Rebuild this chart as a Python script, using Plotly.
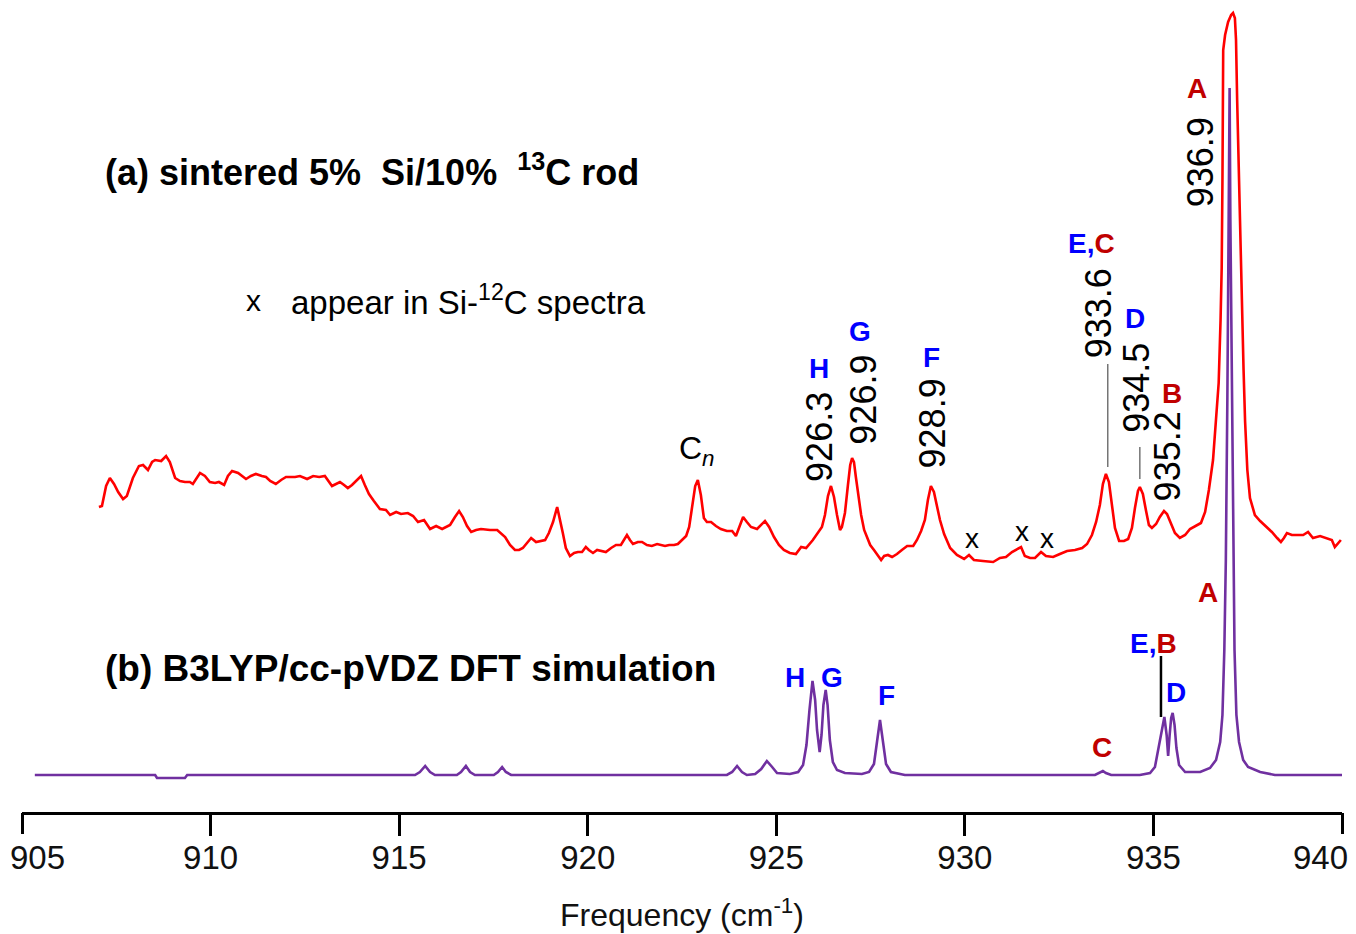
import plotly.graph_objects as go

# ---------------- data ----------------
# (a) experimental spectrum, sintered 5% Si / 10% 13C rod (arbitrary intensity units incl. offset)
exp_freq = [907.04, 907.12, 907.23, 907.33, 907.44, 907.55, 907.68, 907.78, 907.94, 908.10,
            908.21, 908.34, 908.45, 908.53, 908.69, 908.82, 908.92, 909.06, 909.19, 909.32,
            909.45, 909.53, 909.72, 909.85, 909.98, 910.12, 910.22, 910.36, 910.46, 910.57,
            910.73, 910.94, 911.07, 911.20, 911.36, 911.47, 911.58, 911.73, 911.87, 912.00,
            912.24, 912.37, 912.56, 912.72, 912.88, 913.03, 913.22, 913.33, 913.43, 913.54,
            913.64, 913.75, 913.88, 913.99, 914.09, 914.20, 914.33, 914.49, 914.65, 914.76,
            914.92, 915.05, 915.23, 915.37, 915.50, 915.66, 915.82, 915.98, 916.14, 916.35,
            916.48, 916.59, 916.69, 916.80, 916.91, 917.04, 917.17, 917.41, 917.60, 917.70,
            917.81, 917.94, 918.07, 918.18, 918.28, 918.39, 918.50, 918.63, 918.73, 918.87,
            918.97, 919.08, 919.19, 919.26, 919.34, 919.42, 919.53, 919.64, 919.74, 919.85,
            919.95, 920.03, 920.14, 920.25, 920.35, 920.48, 920.62, 920.75, 920.88, 920.96,
            921.04, 921.12, 921.20, 921.33, 921.44, 921.57, 921.70, 921.84, 921.94, 922.05,
            922.16, 922.29, 922.39, 922.50, 922.61, 922.69, 922.77, 922.85, 922.92, 923.00,
            923.08, 923.16, 923.27, 923.40, 923.53, 923.69, 923.83, 923.93, 924.01, 924.12,
            924.22, 924.33, 924.49, 924.60, 924.70, 924.81, 924.94, 925.07, 925.20, 925.36,
            925.52, 925.66, 925.79, 925.97, 926.11, 926.21, 926.29, 926.37, 926.45, 926.53,
            926.61, 926.69, 926.74, 926.82, 926.90, 926.96, 927.01, 927.06, 927.11, 927.17,
            927.25, 927.33, 927.41, 927.49, 927.59, 927.70, 927.78, 927.86, 927.96, 928.07,
            928.20, 928.33, 928.47, 928.63, 928.73, 928.84, 928.94, 929.02, 929.10, 929.18,
            929.26, 929.34, 929.45, 929.61, 929.79, 929.98, 930.11, 930.24, 930.48, 930.75,
            930.93, 931.09, 931.25, 931.41, 931.49, 931.59, 931.73, 931.86, 932.02, 932.15,
            932.34, 932.52, 932.71, 932.92, 933.11, 933.24, 933.37, 933.48, 933.58, 933.66,
            933.74, 933.82, 933.90, 933.98, 934.09, 934.22, 934.33, 934.43, 934.51, 934.59,
            934.64, 934.72, 934.80, 934.88, 934.96, 935.07, 935.17, 935.28, 935.36, 935.47,
            935.57, 935.70, 935.84, 935.97, 936.13, 936.26, 936.37, 936.47, 936.58, 936.66,
            936.73, 936.78, 936.81, 936.83, 936.84, 936.85, 936.90, 936.98, 937.06, 937.11,
            937.16, 937.19, 937.22, 937.25, 937.30, 937.34, 937.39, 937.43, 937.49, 937.56,
            937.69, 937.83, 937.98, 938.14, 938.28, 938.38, 938.46, 938.54, 938.67, 938.83,
            938.97, 939.10, 939.23, 939.42, 939.60, 939.73, 939.81, 939.89, 939.97]
exp_int = [305, 306, 326, 334, 328, 320, 313, 316, 334, 346,
           347, 342, 350, 352, 351, 356, 350, 334, 331, 330,
           330, 328, 339, 336, 330, 329, 330, 327, 336, 341,
           339, 333, 336, 338, 336, 335, 331, 328, 332, 335,
           335, 336, 333, 336, 335, 336, 326, 328, 330, 327,
           324, 327, 332, 336, 327, 318, 311, 303, 302, 297,
           300, 298, 299, 296, 290, 292, 283, 286, 283, 287,
           295, 301, 295, 286, 280, 282, 283, 282, 282, 279,
           275, 267, 262, 262, 264, 269, 274, 270, 271, 272,
           279, 290, 305, 294, 279, 264, 256, 259, 260, 260,
           265, 262, 259, 262, 261, 260, 264, 267, 267, 272,
           277, 272, 268, 270, 270, 267, 266, 268, 267, 266,
           267, 267, 268, 272, 276, 285, 307, 326, 332, 317,
           294, 290, 290, 286, 283, 281, 281, 276, 284, 295,
           290, 285, 283, 287, 291, 285, 275, 267, 262, 259,
           258, 265, 264, 272, 280, 285, 297, 316, 326, 315,
           297, 282, 285, 299, 327, 347, 354, 350, 335, 317,
           297, 282, 274, 267, 262, 256, 252, 256, 257, 255,
           258, 262, 266, 266, 272, 281, 292, 312, 326, 320,
           305, 292, 278, 264, 257, 253, 257, 252, 251, 250,
           254, 255, 260, 263, 265, 256, 254, 254, 260, 256,
           255, 258, 261, 262, 264, 268, 277, 290, 307, 328,
           338, 330, 307, 284, 271, 271, 273, 284, 304, 321,
           325, 318, 302, 287, 284, 288, 295, 301, 298, 287,
           279, 274, 277, 283, 286, 289, 300, 322, 352, 392,
           429, 492, 544, 632, 712, 762, 777, 790, 797, 799,
           794, 772, 712, 659, 582, 506, 442, 391, 342, 314,
           297, 291, 286, 280, 274, 270, 274, 279, 277, 277,
           277, 280, 274, 276, 274, 272, 265, 269, 272]

# (b) B3LYP/cc-pVDZ DFT simulated spectrum
sim_freq = [905.34, 908.53, 908.58, 909.32, 909.38, 915.42, 915.55, 915.69, 915.82, 915.95,
            916.53, 916.64, 916.77, 916.88, 917.01, 917.51, 917.62, 917.73, 917.83, 917.97,
            923.69, 923.83, 923.96, 924.09, 924.22, 924.44, 924.60, 924.75, 924.89, 925.02,
            925.36, 925.58, 925.71, 925.80, 925.88, 925.96, 926.03, 926.08, 926.15, 926.20,
            926.25, 926.31, 926.36, 926.42, 926.50, 926.61, 926.82, 927.27, 927.46, 927.59,
            927.67, 927.75, 927.83, 927.91, 928.04, 928.41, 933.45, 933.58, 933.66, 933.74,
            933.88, 934.64, 934.91, 935.04, 935.15, 935.23, 935.29, 935.35, 935.39, 935.43,
            935.47, 935.51, 935.56, 935.61, 935.68, 935.84, 936.24, 936.50, 936.66, 936.77,
            936.83, 936.88, 936.92, 936.96, 936.99, 937.02, 937.04, 937.08, 937.11, 937.15,
            937.20, 937.27, 937.38, 937.51, 937.83, 938.22, 940.00]
sim_int = [37, 37, 34, 34, 37, 37, 40, 46, 40, 37,
           37, 40, 46, 40, 37, 37, 40, 45, 40, 37,
           37, 40, 46, 40, 37, 38, 43, 51, 45, 39,
           38, 40, 47, 67, 102, 131, 112, 82, 60, 77,
           107, 122, 107, 72, 50, 42, 39, 38, 40, 48,
           70, 92, 70, 48, 40, 37, 37, 39, 41, 39,
           37, 37, 39, 45, 67, 87, 95, 77, 56, 77,
           94, 99, 87, 64, 47, 40, 40, 44, 52, 70,
           97, 162, 252, 412, 592, 724, 592, 412, 252, 162,
           97, 70, 52, 45, 40, 37, 37]

tick_vals = [905, 910, 915, 920, 925, 930, 935, 940]
tick_text = ["905", "910", "915", "920", "925", "930", "935", "940"]

# peak frequency labels (experimental): text, x, y
freq_labels = ["926.3", "926.9", "928.9", "933.6", "934.5", "935.2", "936.9"]
freq_lab_x = [926.13, 927.29, 929.14, 933.54, 934.53, 935.37, 936.24]
freq_lab_y = [375, 412, 389, 499, 424, 356, 650]

BLUE = "#0000FF"
DRED = "#C00000"
# letter labels (experimental, top)
top_letters = ["H", "G", "F", f"<span style='color:{BLUE}'>E,</span><span style='color:{DRED}'>C</span>", "D", "B", "A"]
top_letter_x = [926.12, 927.23, 929.11, 933.36, 934.51, 935.48, 936.16]
top_letter_y = [444, 481, 455, 569, 494, 419, 724]
top_letter_c = [BLUE, BLUE, BLUE, BLUE, BLUE, DRED, DRED]
# letter labels (simulation, bottom)
bot_letters = ["H", "G", "F", "C", f"<span style='color:{BLUE}'>E,</span><span style='color:{DRED}'>B</span>", "D", "A"]
bot_letter_x = [925.50, 926.48, 927.91, 933.63, 935.00, 935.60, 936.45]
bot_letter_y = [135, 135, 117, 65, 169, 120, 220]
bot_letter_c = [BLUE, BLUE, BLUE, DRED, BLUE, BLUE, DRED]

# "x" marks: bands that also appear in Si-12C spectra
xmark_x = [930.19, 931.52, 932.18]
xmark_y = [274, 281, 274]

# ---------------- figure ----------------
FONT = "Liberation Sans, Arial, sans-serif"
TICK_FS = 33
TICKLEN = 21
fig = go.Figure()
fig.add_trace(go.Scatter(x=exp_freq, y=exp_int, mode="lines",
                         line=dict(color="#FF0000", width=2.6), hoverinfo="skip"))
fig.add_trace(go.Scatter(x=sim_freq, y=sim_int, mode="lines",
                         line=dict(color="#7030A0", width=2.6), hoverinfo="skip"))
# invisible helper trace so the end-tick axis is drawn
fig.add_trace(go.Scatter(x=[tick_vals[0], tick_vals[-1]], y=[None, None], mode="lines",
                         xaxis="x2", yaxis="y", hoverinfo="skip", showlegend=False))

ann = []
ann.append(dict(x=907.15, y=642, xanchor="left", yanchor="middle",
                text="<b>(a) sintered 5%\u00a0 Si/10%\u00a0 <sup>13</sup>C rod</b>",
                font=dict(size=36, color="black")))
ann.append(dict(x=911.15, y=512, xanchor="center", yanchor="middle", text="x",
                font=dict(size=30, color="black")))
ann.append(dict(x=912.08, y=512, xanchor="left", yanchor="middle",
                text="appear in Si-<sup>12</sup>C spectra", font=dict(size=33, color="black")))
ann.append(dict(x=907.15, y=144, xanchor="left", yanchor="middle",
                text="<b>(b) B3LYP/cc-pVDZ DFT simulation</b>",
                font=dict(size=37, color="black")))
ann.append(dict(x=922.90, y=362, xanchor="center", yanchor="middle",
                text="C<sub><i>n</i></sub>", font=dict(size=32, color="black")))
for t, x, y in zip(freq_labels, freq_lab_x, freq_lab_y):
    ann.append(dict(x=x, y=y, text=t, textangle=-90, xanchor="center", yanchor="middle",
                    font=dict(size=36, color="black")))
for t, x, y, c in zip(top_letters, top_letter_x, top_letter_y, top_letter_c):
    ann.append(dict(x=x, y=y, text=f"<b>{t}</b>", xanchor="center", yanchor="middle",
                    font=dict(size=28, color=c)))
for t, x, y, c in zip(bot_letters, bot_letter_x, bot_letter_y, bot_letter_c):
    ann.append(dict(x=x, y=y, text=f"<b>{t}</b>", xanchor="center", yanchor="middle",
                    font=dict(size=28, color=c)))
for x, y in zip(xmark_x, xmark_y):
    ann.append(dict(x=x, y=y, text="x", xanchor="center", yanchor="middle",
                    font=dict(size=28, color="black")))
for a in ann:
    a.update(xref="x", yref="y", showarrow=False)
# end tick labels are nudged inside the figure (as in the original)
ann.append(dict(x=905.42, y=-45 / 812, xref="x", yref="paper", text=tick_text[0],
                xanchor="center", yanchor="middle", showarrow=False,
                font=dict(size=TICK_FS, color="#111111")))
ann.append(dict(x=939.44, y=-45 / 812, xref="x", yref="paper", text=tick_text[-1],
                xanchor="center", yanchor="middle", showarrow=False,
                font=dict(size=TICK_FS, color="#111111")))

shapes = [
    dict(type="line", xref="x", yref="y", x0=933.79, x1=933.79, y0=448, y1=345,
         line=dict(color="#606060", width=1.3)),
    dict(type="line", xref="x", yref="y", x0=934.64, x1=934.64, y0=365, y1=333,
         line=dict(color="#606060", width=1.3)),
    dict(type="line", xref="x", yref="y", x0=935.20, x1=935.20, y0=156, y1=95,
         line=dict(color="black", width=2.5)),
]

fig.update_layout(
    width=1356, height=934,
    margin=dict(l=22, r=14, t=0, b=122),
    paper_bgcolor="white", plot_bgcolor="white",
    showlegend=False,
    font=dict(family=FONT, color="black"),
    annotations=ann, shapes=shapes,
    xaxis=dict(range=[905, 940], tickvals=tick_vals[1:-1], ticktext=tick_text[1:-1],
               ticks="outside", ticklen=TICKLEN, ticklabelstandoff=-6,
               tickwidth=2.5, tickcolor="black", showline=True, linecolor="black",
               linewidth=2.5, showgrid=False, zeroline=False,
               tickfont=dict(size=TICK_FS, color="#111111"),
               title=dict(text="Frequency (cm<sup>-1</sup>)", font=dict(size=32, color="#111111"),
                          standoff=29)),
    xaxis2=dict(range=[905, 940], overlaying="x", anchor="y", side="bottom",
                tickvals=[tick_vals[0], tick_vals[-1]], showticklabels=False,
                ticks="outside", ticklen=TICKLEN, tickwidth=2.5, tickcolor="black",
                showline=False, showgrid=False, zeroline=False),
    yaxis=dict(range=[0, 812], visible=False, showgrid=False, zeroline=False),
)

fig.write_html("out.html")
